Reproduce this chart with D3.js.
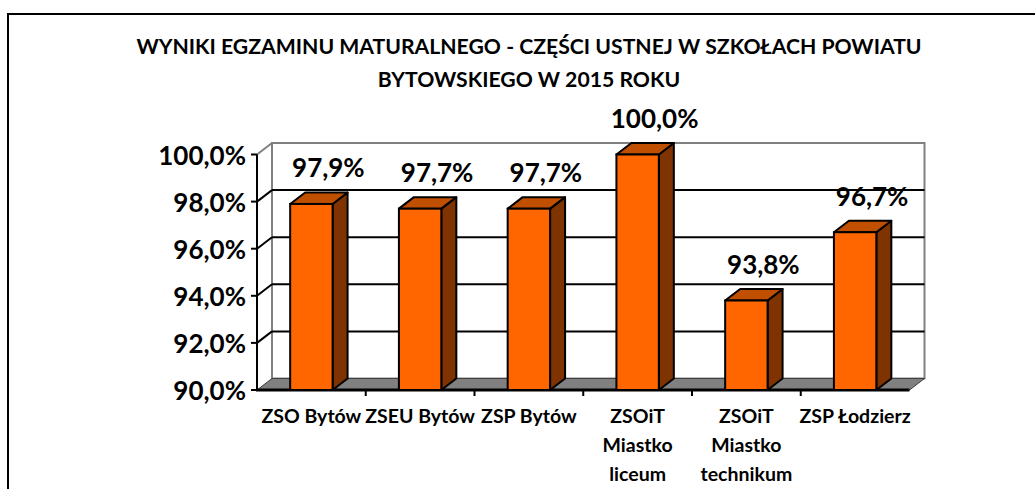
<!DOCTYPE html>
<html>
<head>
<meta charset="utf-8">
<script src="https://cdn.jsdelivr.net/npm/d3@7/dist/d3.min.js"></script>
<style>
  html, body { margin: 0; padding: 0; background: #fff; }
  svg { display: block; }
  text { font-family: Lato, "Open Sans", sans-serif; font-weight: bold; fill: #000; }
</style>
</head>
<body>
<svg id="chart" width="1035" height="489"></svg>
<script>
const titleLines = ["WYNIKI EGZAMINU MATURALNEGO - CZĘŚCI USTNEJ W SZKOŁACH POWIATU", "BYTOWSKIEGO W 2015 ROKU"];
const categories = ["ZSO Bytów", "ZSEU Bytów", "ZSP Bytów", "ZSOiT Miastko liceum", "ZSOiT Miastko technikum", "ZSP Łodzierz"];
const categoryLines = [["ZSO Bytów"], ["ZSEU Bytów"], ["ZSP Bytów"], ["ZSOiT", "Miastko", "liceum"], ["ZSOiT", "Miastko", "technikum"], ["ZSP Łodzierz"]];
const values = [97.9, 97.7, 97.7, 100.0, 93.8, 96.7];
const yTicks = [90, 92, 94, 96, 98, 100];

const svg = d3.select("#chart");
const locale = d3.formatLocale({decimal: ",", thousands: " ", grouping: [3], currency: ["", ""]});
const fmt = v => locale.format(".1f")(v) + "%";

const x = d3.scaleBand().domain(categories).range([257, 909.5]).paddingInner(0).paddingOuter(0);
const y = d3.scaleLinear().domain([90, 100]).range([390, 154.5]);
const dx = 15, dy = -11.5;
const barW = x.bandwidth() * 0.39;

// outer frame
svg.append("rect").attr("x", 8).attr("y", 14).attr("width", 1040).attr("height", 500)
  .attr("fill", "#fff").attr("stroke", "#000").attr("stroke-width", 2);

// title
svg.append("g").selectAll("text").data(titleLines).join("text")
  .attr("x", 529).attr("y", (d, i) => 54 + i * 33)
  .attr("text-anchor", "middle").style("font-size", "21.2px").text(d => d);

const [x0, x1] = x.range();
const yBot = y(90), yTop = y(100);

// back wall
svg.append("rect").attr("x", x0 + dx).attr("y", yTop + dy)
  .attr("width", x1 - x0).attr("height", yBot - yTop)
  .attr("fill", "#fff").attr("stroke", "#808080").attr("stroke-width", 2);

// gridlines (back wall + left wall diagonals)
const grid = yTicks.filter(t => t > 90 && t < 100);
svg.append("g").selectAll("line.gb").data(grid).join("line")
  .attr("x1", x0 + dx).attr("x2", x1 + dx)
  .attr("y1", d => y(d) + dy).attr("y2", d => y(d) + dy)
  .attr("stroke", "#000").attr("stroke-width", 2);
svg.append("g").selectAll("line.gl").data(grid).join("line")
  .attr("x1", x0).attr("x2", x0 + dx)
  .attr("y1", d => y(d)).attr("y2", d => y(d) + dy)
  .attr("stroke", "#000").attr("stroke-width", 2);
// left wall top edge
svg.append("line").attr("x1", x0).attr("y1", yTop).attr("x2", x0 + dx).attr("y2", yTop + dy)
  .attr("stroke", "#808080").attr("stroke-width", 2);

// floor
svg.append("polygon")
  .attr("points", [[x0, yBot], [x1, yBot], [x1 + dx, yBot + dy], [x0 + dx, yBot + dy]].map(p => p.join(",")).join(" "))
  .attr("fill", "#808080").attr("stroke", "#404040").attr("stroke-width", 1);

// axes
svg.append("line").attr("x1", x0).attr("x2", x0).attr("y1", yTop).attr("y2", yBot + 1)
  .attr("stroke", "#000").attr("stroke-width", 2);
svg.append("line").attr("x1", x0 - 1).attr("x2", x1).attr("y1", yBot).attr("y2", yBot)
  .attr("stroke", "#000").attr("stroke-width", 3);
svg.append("g").selectAll("line").data(yTicks).join("line")
  .attr("x1", x0 - 6).attr("x2", x0).attr("y1", d => y(d)).attr("y2", d => y(d))
  .attr("stroke", "#000").attr("stroke-width", 2);
svg.append("g").selectAll("line").data(categories.slice(1)).join("line")
  .attr("x1", d => x(d)).attr("x2", d => x(d)).attr("y1", yBot).attr("y2", yBot + 6)
  .attr("stroke", "#000").attr("stroke-width", 2);

// y tick labels
svg.append("g").selectAll("text").data(yTicks).join("text")
  .attr("x", 246).attr("y", d => y(d) + 10)
  .attr("text-anchor", "end").style("font-size", "26px").text(d => fmt(d));

// bars
const bars = svg.append("g").selectAll("g").data(values).join("g");
bars.each(function(v, i) {
  const g = d3.select(this);
  const bx = x(categories[i]) + (x.bandwidth() - barW) / 2;
  const top = y(v);
  const pts = a => a.map(p => p.join(",")).join(" ");
  g.append("polygon").attr("points", pts([[bx + barW, yBot], [bx + barW + dx, yBot + dy], [bx + barW + dx, top + dy], [bx + barW, top]]))
    .attr("fill", "#7F3300").attr("stroke", "#000").attr("stroke-width", 2).attr("stroke-linejoin", "round");
  g.append("polygon").attr("points", pts([[bx, top], [bx + dx, top + dy], [bx + barW + dx, top + dy], [bx + barW, top]]))
    .attr("fill", "#C04F00").attr("stroke", "#000").attr("stroke-width", 2).attr("stroke-linejoin", "round");
  g.append("rect").attr("x", bx).attr("y", top).attr("width", barW).attr("height", yBot - top)
    .attr("fill", "#FF6600").attr("stroke", "#000").attr("stroke-width", 2);
});

// data labels
svg.append("g").selectAll("text").data(values).join("text")
  .attr("x", (d, i) => x(categories[i]) + x.bandwidth() / 2 + 17)
  .attr("y", d => y(d) + dy - 15)
  .attr("text-anchor", "middle").style("font-size", "26px").text(d => fmt(d));

// x labels
const xl = svg.append("g").selectAll("text").data(categories).join("text")
  .attr("text-anchor", "middle").style("font-size", "19.5px")
  .attr("transform", d => `translate(${x(d) + x.bandwidth() / 2},423)`);
xl.selectAll("tspan").data((d, i) => categoryLines[i]).join("tspan")
  .attr("x", 0).attr("y", (d, j) => j * 29).text(d => d);
</script>
</body>
</html>
